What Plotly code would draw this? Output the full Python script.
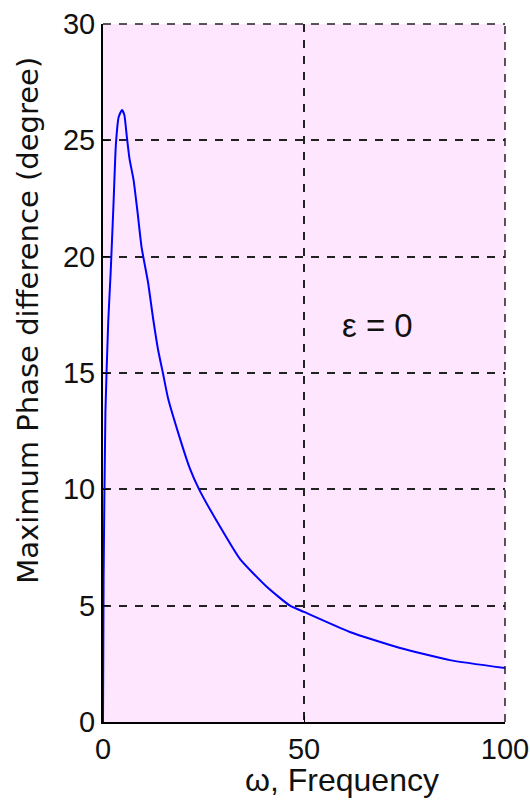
import plotly.graph_objects as go

# Maximum phase difference versus frequency (epsilon = 0)
omega = [0, 0.15, 0.6, 1.3, 1.9, 2.6, 3.2, 3.9, 4.7, 5.3, 5.9, 6.6, 7.6, 8.6,
         9.6, 11.2, 12.5, 13.7, 14.9, 16.2, 18.4, 21.6, 23.9, 29.1, 34.1,
         40.8, 46.5, 50.0, 61.4, 73.9, 86.3, 100.0]
phase_deg = [0, 6.2, 13.3, 17.2, 19.3, 22.2, 24.8, 26.0, 26.3, 26.1, 25.2,
             24.2, 23.3, 21.9, 20.4, 18.9, 17.3, 16.0, 15.0, 13.9, 12.6, 10.9,
             10.0, 8.4, 7.0, 5.8, 5.0, 4.73, 3.87, 3.18, 2.66, 2.32]

x_ticks = [0, 50, 100]
y_ticks = [0, 5, 10, 15, 20, 25, 30]

tick_font = dict(family="Liberation Sans, Arial, sans-serif", size=29, color="#111")
grid = dict(showgrid=True, gridcolor="#222", gridwidth=1.5, griddash="8px,8px")
dash_edge = dict(color="#222", width=1.5, dash="8px,8px")

fig = go.Figure()
fig.add_trace(go.Scatter(x=omega, y=phase_deg, mode="lines",
                         line=dict(color="#0000ff", width=2, shape="spline",
                                   smoothing=0.5),
                         showlegend=False))

# dashed top and right borders of the plotting box
fig.add_shape(type="line", xref="paper", yref="paper", x0=0, x1=1, y0=1, y1=1,
              line=dash_edge)
fig.add_shape(type="line", xref="paper", yref="paper", x0=1, x1=1, y0=0, y1=1,
              line=dash_edge)

fig.update_layout(
    width=530, height=806,
    margin=dict(l=103, r=25, t=24, b=84),
    paper_bgcolor="white",
    plot_bgcolor="rgb(255,230,255)",
    xaxis=dict(range=[0, 100], tickvals=x_ticks, ticks="inside", ticklen=6,
               tickcolor="black", showline=True, linecolor="black", linewidth=2,
               zeroline=False, tickfont=tick_font, automargin=False, **grid),
    yaxis=dict(range=[0, 30], tickvals=y_ticks, ticks="inside", ticklen=6,
               tickcolor="black", showline=True, linecolor="black", linewidth=2,
               zeroline=False, tickfont=tick_font, automargin=False, **grid),
    annotations=[
        dict(text="ε = 0", x=68.4, y=17.06, xref="x", yref="y", showarrow=False,
             font=dict(family="Liberation Sans, Arial, sans-serif", size=33, color="#111")),
        dict(text="ω, Frequency", x=0.595, y=-0.083, xref="paper", yref="paper",
             showarrow=False, xanchor="center", yanchor="middle",
             font=dict(family="Liberation Sans, Arial, sans-serif", size=32, color="#111")),
        dict(text="Maximum Phase difference (degree)", x=-0.187, y=0.576,
             xref="paper", yref="paper", showarrow=False, textangle=-90,
             xanchor="center", yanchor="middle",
             font=dict(family="DejaVu Sans, sans-serif", size=29, color="#111")),
    ],
)

fig.write_html("out.html")
